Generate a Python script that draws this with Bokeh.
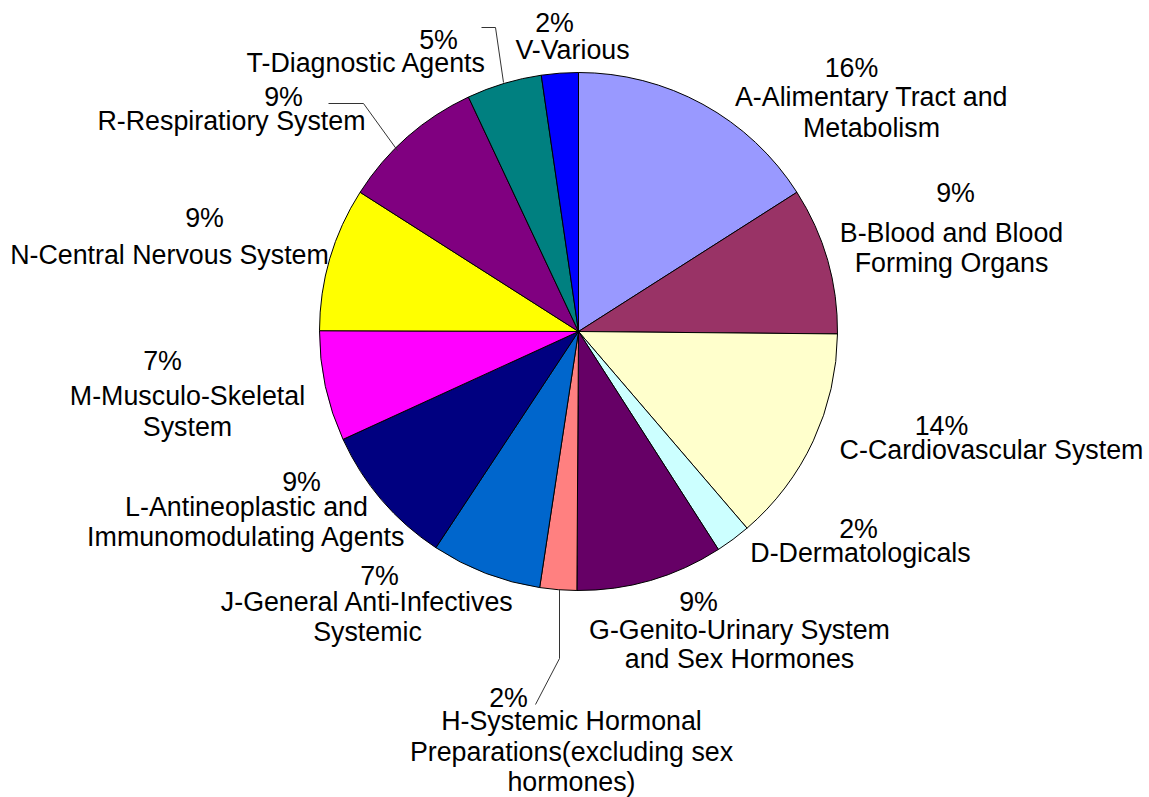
import math
from bokeh.plotting import figure
from bokeh.models import Range1d, ColumnDataSource
from bokeh.core.properties import value
from bokeh.embed import file_html
from bokeh.resources import INLINE

# ---------------- data ----------------
categories = ["A", "B", "C", "D", "G", "H", "J", "L", "M", "N", "R", "T", "V"]
names = [
    "A-Alimentary Tract and\nMetabolism",
    "B-Blood and Blood\nForming Organs",
    "C-Cardiovascular System",
    "D-Dermatologicals",
    "G-Genito-Urinary System\nand Sex Hormones",
    "H-Systemic Hormonal\nPreparations(excluding sex\nhormones)",
    "J-General Anti-Infectives\nSystemic",
    "L-Antineoplastic and\nImmunomodulating Agents",
    "M-Musculo-Skeletal\nSystem",
    "N-Central Nervous System",
    "R-Respiratiory System",
    "T-Diagnostic Agents",
    "V-Various",
]
shares = [16.0, 9.2, 13.6, 2.2, 9.2, 2.3, 6.9, 8.9, 6.9, 9.0, 9.0, 4.7, 2.3]
colors = ["#9999FF", "#993366", "#FFFFCC", "#CCFFFF", "#660066", "#FF8080",
          "#0066CC", "#000080", "#FF00FF", "#FFFF00", "#800080", "#008080", "#0000FF"]

# ---------------- layout (image pixel coords) ----------------
W, H = 1149, 797
CX, CY, R = 578, 331, 259
FONT = "Liberation Sans"
FSIZE = "26.8px"
# (pct label center, name x, name line y's)
label_layout = {
    "A": ((851, 67), 871, [96, 127]),
    "B": ((955, 192), 951, [232, 262]),
    "C": ((941, 425), 991, [449]),
    "D": ((858, 528), 860, [552]),
    "G": ((698, 601), 739, [629, 658]),
    "H": ((508, 697), 571, [720, 751, 781]),
    "J": ((379, 575), 367, [601, 631]),
    "L": ((301, 481), 246, [506, 536]),
    "M": ((162, 360), 187, [395, 426]),
    "N": ((204, 217), 169, [254]),
    "R": ((283, 96), 231, [120]),
    "T": ((438, 39), 366, [62]),
    "V": ((554, 22), 572, [49]),
}
leaders = {
    "R": [(328, 103), (363, 103), (397, 150)],
    "T": [(481, 27), (495, 27), (503, 82)],
    "H": [(559, 589), (559, 658), (535, 704)],
}


def Y(img_y):
    return H - img_y


total = sum(shares)
starts, ends, pcts = [], [], []
cum = 0.0
for s in shares:
    a0 = math.pi / 2 - 2 * math.pi * cum / total
    cum += s
    a1 = math.pi / 2 - 2 * math.pi * cum / total
    starts.append(a0)
    ends.append(a1)
    pcts.append(f"{round(s / total * 100)}%")

p = figure(width=W, height=H, output_backend="svg", toolbar_location=None,
           x_range=Range1d(0, W), y_range=Range1d(0, H),
           min_border=0)
p.axis.visible = False
p.grid.visible = False
p.outline_line_color = None
p.background_fill_color = "white"
p.border_fill_color = "white"

src = ColumnDataSource(dict(start=starts, end=ends, color=colors))
p.wedge(x=CX, y=Y(CY), radius=R, start_angle="start", end_angle="end",
        direction="clock", fill_color="color", line_color="black",
        line_width=1, source=src)

# leader lines
xs, ys = [], []
for k, pts in leaders.items():
    xs.append([q[0] for q in pts])
    ys.append([Y(q[1]) for q in pts])
p.multi_line(xs=xs, ys=ys, line_color="#333333", line_width=1)

# labels
tx, ty, tt = [], [], []
for cat, name, pct in zip(categories, names, pcts):
    (px, py), nx, nys = label_layout[cat]
    tx.append(px); ty.append(Y(py)); tt.append(pct)
    for line, ly in zip(name.split("\n"), nys):
        tx.append(nx); ty.append(Y(ly)); tt.append(line)
p.text(x=tx, y=ty, text=tt, text_align="center", text_baseline="middle",
       text_font=value(FONT), text_font_size=FSIZE, text_color="black")

open("out.html", "w").write(file_html(p, INLINE))
